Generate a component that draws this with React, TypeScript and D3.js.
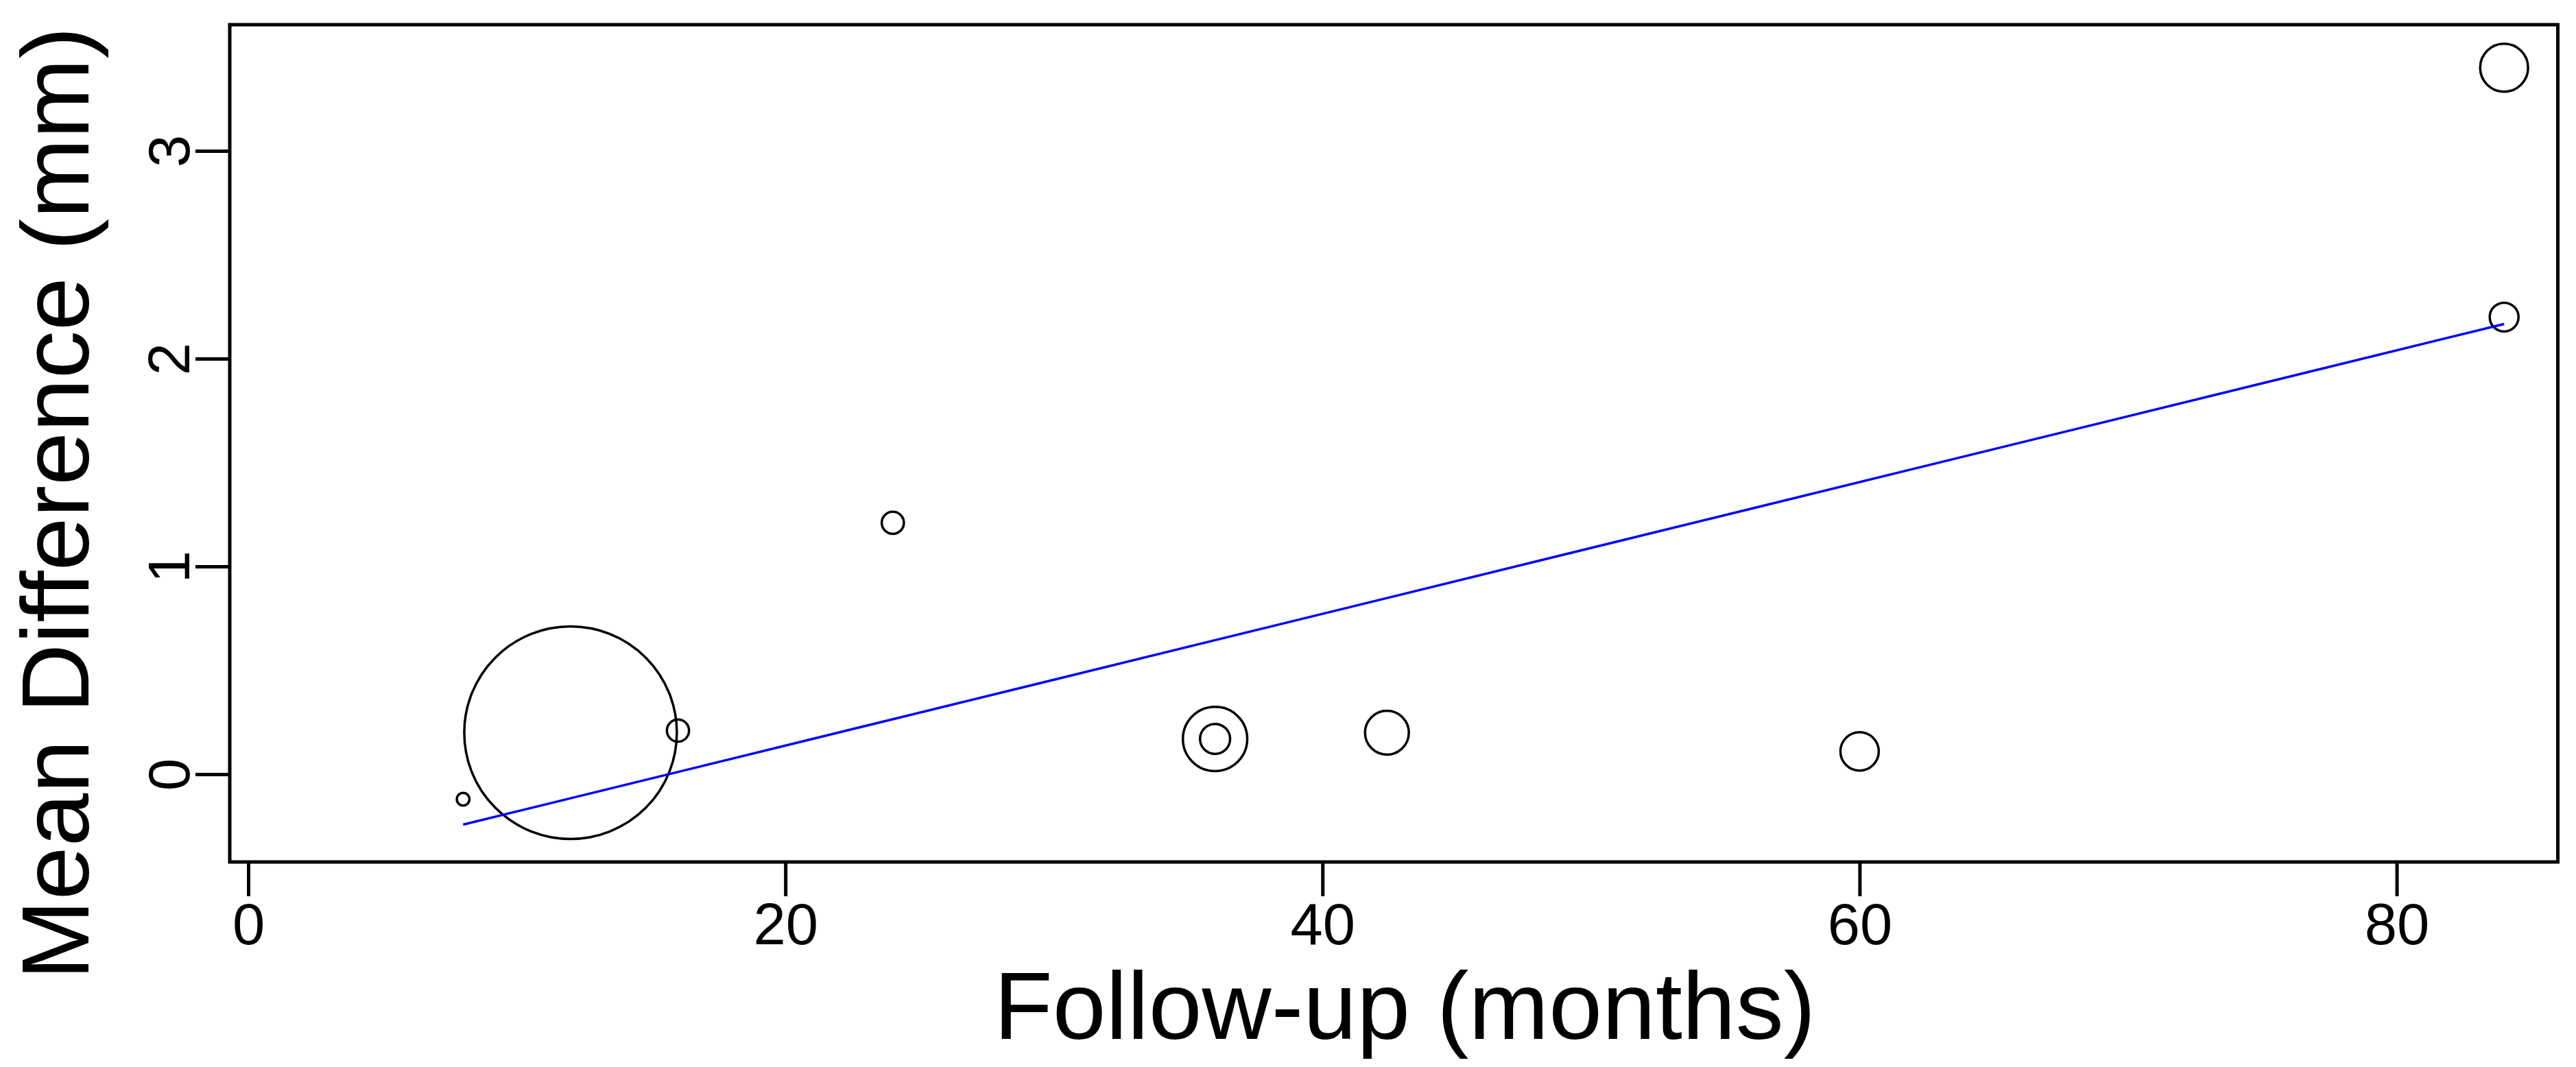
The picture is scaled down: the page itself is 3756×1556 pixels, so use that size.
import React, { useRef, useEffect } from 'react';
import * as d3 from 'd3';

// study-level data: follow-up (months), mean difference (mm), weight
const followUp = [8, 12, 16, 24, 36, 36, 42.4, 60, 84, 84];
const meanDiff = [-0.12, 0.2, 0.21, 1.21, 0.17, 0.17, 0.2, 0.11, 3.4, 2.2];
const weights = [0.85, 240, 2.6, 2.6, 22, 4.8, 10.2, 7.8, 12.2, 4.4];

// fitted meta-regression line
const intercept = -0.496;
const slope = 0.0317;

const xTicks = [0, 20, 40, 60, 80];
const yTicks = [0, 1, 2, 3];
const xDomain = [-0.69, 86.0];
const yDomain = [-0.422, 3.607];

const xTitle = 'Follow-up (months)';
const yTitle = 'Mean Difference (mm)';

const width = 3756;
const height = 1556;
const left = 335;
const right = 3729.5;
const top = 36;
const bottom = 1257;
const font = '"Liberation Sans", Arial, sans-serif';

const App = () => {
  const svgRef = useRef(null);

  useEffect(() => {
    const svg = d3.select(svgRef.current);
    svg.selectAll('*').remove();

    const x = d3.scaleLinear().domain(xDomain).range([left, right]);
    const y = d3.scaleLinear().domain(yDomain).range([bottom, top]);
    const r = d3.scaleSqrt().domain([0, d3.max(weights)]).range([0, 155]);

    const points = followUp.map((f, i) => ({ f, m: meanDiff[i], w: weights[i] }));

    // bubbles
    svg.append('g')
      .selectAll('circle')
      .data(points)
      .enter()
      .append('circle')
        .attr('cx', d => x(d.f))
        .attr('cy', d => y(d.m))
        .attr('r', d => r(d.w))
        .attr('fill', 'none')
        .attr('stroke', '#000')
        .attr('stroke-width', 3.5);

    // regression line
    const [x0, x1] = d3.extent(followUp);
    const line = d3.line().x(d => x(d[0])).y(d => y(d[1]));
    svg.append('path')
      .attr('d', line([[x0, intercept + slope * x0], [x1, intercept + slope * x1]]))
      .attr('fill', 'none')
      .attr('stroke', '#0000ff')
      .attr('stroke-width', 3.5);

    // plot box
    svg.append('rect')
      .attr('x', left)
      .attr('y', top)
      .attr('width', right - left)
      .attr('height', bottom - top)
      .attr('fill', 'none')
      .attr('stroke', '#000')
      .attr('stroke-width', 5);

    // x axis
    const gx = svg.append('g')
      .attr('transform', `translate(0,${bottom})`)
      .call(d3.axisBottom(x).tickValues(xTicks).tickSize(50).tickFormat(d3.format('d')));
    gx.select('.domain').remove();
    gx.selectAll('line').attr('stroke', '#000').attr('stroke-width', 5);
    gx.selectAll('text')
      .attr('y', 120)
      .attr('dy', 0)
      .attr('fill', '#000')
      .style('font-family', font)
      .style('font-size', '85px');

    // y axis
    const gy = svg.append('g')
      .attr('transform', `translate(${left},0)`)
      .call(d3.axisLeft(y).tickValues(yTicks).tickSize(50).tickFormat(d3.format('d')));
    gy.select('.domain').remove();
    gy.selectAll('line').attr('stroke', '#000').attr('stroke-width', 5);
    gy.selectAll('text')
      .attr('x', 0)
      .attr('dy', 0)
      .attr('text-anchor', 'middle')
      .attr('transform', 'translate(-59,0) rotate(-90)')
      .attr('fill', '#000')
      .style('font-family', font)
      .style('font-size', '85px');

    // axis titles
    svg.append('text')
      .attr('x', (left + right) / 2 + 16)
      .attr('y', 1515)
      .attr('text-anchor', 'middle')
      .style('font-family', font)
      .style('font-size', '140px')
      .text(xTitle);

    svg.append('text')
      .attr('transform', 'translate(129,734) rotate(-90)')
      .attr('text-anchor', 'middle')
      .style('font-family', font)
      .style('font-size', '140px')
      .text(yTitle);
  }, []);

  return (
    <svg
      ref={svgRef}
      width={width}
      height={height}
      style={{ position: 'absolute', left: 0, top: 0, background: '#fff' }}
    ></svg>
  );
};

export default App;
